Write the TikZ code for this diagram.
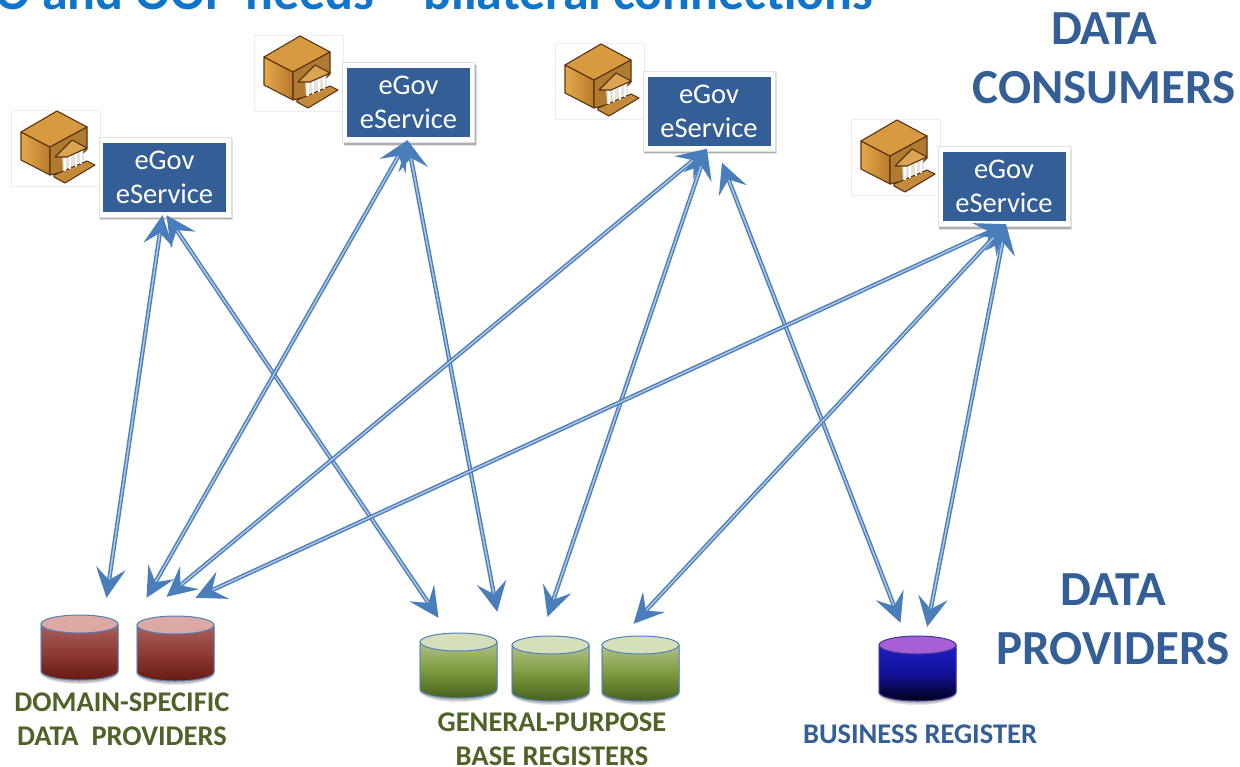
\documentclass[tikz,border=0pt]{standalone}
\usepackage{fontspec}
\setmainfont{Carlito}
\usetikzlibrary{arrows.meta,calc}
\definecolor{hdr}{HTML}{345F96}
\definecolor{ttl}{HTML}{0F75CC}
\definecolor{lnk}{HTML}{4A7EBB}
\definecolor{grn}{HTML}{4F6228}
\definecolor{cylline}{HTML}{4F81BD}
\definecolor{brn}{HTML}{5B3410}
\definecolor{lA}{HTML}{E6A94A}
\definecolor{lB}{HTML}{B9782C}
\definecolor{lC}{HTML}{D79A40}
\definecolor{lD}{HTML}{B07A30}
\definecolor{lE}{HTML}{C48A3C}
\definecolor{rT}{HTML}{A9605C}\definecolor{rM}{HTML}{8F3B36}\definecolor{rB}{HTML}{681A12}\definecolor{rL}{HTML}{DDA9A4}
\definecolor{gT}{HTML}{B2C288}\definecolor{gM}{HTML}{7E9A3E}\definecolor{gB}{HTML}{48601E}\definecolor{gL}{HTML}{D5DFB9}
\definecolor{bT}{HTML}{1E1EC8}\definecolor{bM}{HTML}{12129A}\definecolor{bB}{HTML}{000018}\definecolor{bL}{HTML}{A85FD6}
\definecolor{bO}{HTML}{3A3A9A}
\tikzset{
 x=1pt,y=-1pt,
 big/.style={font=\fontsize{49}{59}\selectfont\bfseries,text=hdr,align=center,inner sep=0,anchor=base},
 lab/.style={font=\fontsize{28.5}{34}\selectfont\bfseries,text=grn,align=center,inner sep=0,anchor=base},
 svc/.style={fill=hdr,minimum width=123,minimum height=69,inner sep=0,text=white,align=center,
   font=\fontsize{28.5}{34}\selectfont},
 cylnode/.style={inner sep=0,minimum width=77,minimum height=65},
 link/.style={draw=lnk,line width=1.4pt,double=white!55!lnk,double distance=1.5pt,
   {Stealth[length=30pt,width=30pt,inset=12pt,fill=lnk,line width=0pt]}-{Stealth[length=30pt,width=30pt,inset=12pt,fill=lnk,line width=0pt]}},
}
\newcommand{\cyl}[8]{%
 \node[cylnode] (#1) at ($(#2,#3)+(38.5,32.5)$) {};
 \begin{scope}[shift={(#2,#3)}]
  \fill[black,opacity=.12] (-1,12) -- (-1,57) arc[start angle=180,end angle=0,x radius=39.5,y radius=12] -- (78,12) -- cycle;
  \fill[black,opacity=.18] (0,12) -- (0,57) arc[start angle=180,end angle=0,x radius=38.5,y radius=10.5] -- (77,12) -- cycle;
  \path[draw=#8,line width=1pt,top color=#4,bottom color=#6,middle color=#5]
    (0,9) -- (0,56) arc[start angle=180,end angle=0,x radius=38.5,y radius=9] -- (77,9) -- cycle;
  \path[draw=#8,line width=1pt,fill=#7] (38.5,9) ellipse[x radius=38.5,y radius=9];
 \end{scope}}
\newcommand{\bld}[2]{%
 \begin{scope}[shift={(#1,#2)}]
  \draw[black!7,line width=.5pt,fill=white] (0,0) rectangle (89,76);
  \begin{scope}[shift={(10,1)},line join=round,line width=1.1pt]
   \path[draw=brn,left color=lA,right color=lB] (0,21) -- (29,36) -- (29,64) -- (0,49) -- cycle;
   \path[draw=brn,fill=lC] (36,0) -- (0,21) -- (29,36) -- (66,16) -- cycle;
   \path[draw=brn,fill=lD] (29,36) -- (66,16) -- (66,38) -- (45,60) -- (29,64) -- cycle;
   \path[draw=brn,fill=lE] (33,66) -- (44,72) -- (74,54) -- (66,50) -- (33,64) -- cycle;
   \fill[white!85!brn] (41,43) -- (62,36) -- (63,49) -- (42,60) -- cycle;
   \foreach \cx/\cy in {44/47,49/45,55/43,60/40}{\draw[white,line width=1.6pt] (\cx,\cy) -- (\cx,\cy+13);}
   \path[draw=brn,fill=lC!90!white] (51,29) -- (66,37) -- (46,46) -- (34,46) -- cycle;
  \end{scope}
 \end{scope}}
% white card with a thin edge and a soft shadow, under a service node
\newcommand{\card}[2]{%
 \fill[black,opacity=.12] ($(#1,#2)+(-65,-38)$) rectangle ($(#1,#2)+(68,43)$);
 \fill[black,opacity=.22] ($(#1,#2)+(-65,-38)$) rectangle ($(#1,#2)+(67,42)$);
 \draw[black!12,line width=.5pt,fill=white] ($(#1,#2)+(-66,-40)$) rectangle ($(#1,#2)+(66,40)$);}
\begin{document}
\begin{tikzpicture}
\useasboundingbox (0,0) rectangle (1240,766);
\clip (0,0) rectangle (1240,766);
\fill[white] (0,0) rectangle (1240,766);
\node[inner sep=0,anchor=base west,font=\fontsize{52}{56}\selectfont\bfseries,text=ttl] (title) at (-5,9) {O and OOP needs – bilateral connections};
\bld{11}{110}\bld{254}{35}\bld{555}{43}\bld{851}{119}
\card{165}{177}\card{408.5}{102.5}\card{709}{111}\card{1004}{186.5}
\node[svc] (e1) at (164.5,177.5) {eGov\\eService};
\node[svc] (e2) at (408.5,102.5) {eGov\\eService};
\node[svc] (e3) at (709,111) {eGov\\eService};
\node[svc] (e4) at (1004,186.5) {eGov\\eService};
\cyl{d1}{41}{615}{rT}{rM}{rB}{rL}{cylline}
\cyl{d2}{137}{616}{rT}{rM}{rB}{rL}{cylline}
\cyl{g1}{420}{633}{gT}{gM}{gB}{gL}{cylline}
\cyl{g2}{512}{636}{gT}{gM}{gB}{gL}{cylline}
\cyl{g3}{602}{636}{gT}{gM}{gB}{gL}{cylline}
\cyl{b}{879}{636}{bT}{bM}{bB}{bL}{bO}
\node[big] (consumers) at (1104,103) {DATA\\CONSUMERS};
\node[big] (providers) at (1113,664) {DATA\\PROVIDERS};
\node[lab] (ldom) at (122,745) {DOMAIN-SPECIFIC\\DATA\ \ PROVIDERS};
\node[lab] (lgen) at (552,765) {GENERAL-PURPOSE\\BASE REGISTERS};
\node[lab,text=hdr] (lbus) at (920,743) {BUSINESS REGISTER};
\draw[link] ([xshift=-2pt,yshift=-3pt]e1.south) -- ([xshift=27pt,yshift=17pt]d1.north);
\draw[link] ([xshift=2pt,yshift=-3pt]e1.south) -- ([xshift=-20pt,yshift=15pt]g1.north);
\draw[link] ([xshift=-1pt,yshift=-3pt]e2.south) -- ([xshift=-29pt,yshift=18pt]d2.north);
\draw[link] ([xshift=-1pt,yshift=-3pt]e2.south) -- ([xshift=0pt,yshift=21pt]g1.north east);
\draw[link] ([xshift=-2pt,yshift=-3pt]e3.south) -- ([xshift=-9pt,yshift=19pt]d2.north);
\draw[link] ([xshift=-2pt,yshift=-3pt]e3.south) -- ([xshift=-3pt,yshift=19pt]g2.north);
\draw[link] ([xshift=13pt,yshift=-17pt]e3.south) -- ([xshift=-17pt,yshift=13pt]b.north);
\draw[link] ([xshift=2pt,yshift=-3pt]e4.south) -- ([xshift=20pt,yshift=18pt]d2.north);
\draw[link] ([xshift=2pt,yshift=-3pt]e4.south) -- ([xshift=-7pt,yshift=12pt]g3.north);
\draw[link] ([xshift=2pt,yshift=-3pt]e4.south) -- ([xshift=-29pt,yshift=9pt]b.north east);
\end{tikzpicture}
\end{document}
